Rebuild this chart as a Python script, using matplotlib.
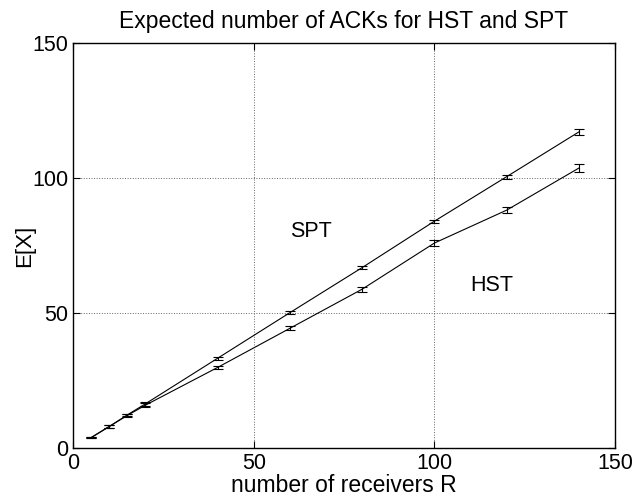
import numpy as np
import matplotlib
matplotlib.use("Agg")
import matplotlib.pyplot as plt

plt.rcParams['font.family'] = ['Liberation Sans', 'DejaVu Sans']

receivers = [5, 10, 15, 20, 40, 60, 80, 100, 120, 140]
spt_mean = [3.8, 7.9, 12.2, 16.3, 33.2, 50.1, 66.8, 84.0, 100.5, 117.1]
spt_err = [0.3, 0.4, 0.5, 0.6, 0.5, 0.5, 0.6, 0.6, 0.7, 1.0]
hst_mean = [3.8, 7.9, 12.0, 15.8, 29.8, 44.3, 58.8, 75.9, 88.1, 103.7]
hst_err = [0.3, 0.4, 0.5, 0.7, 0.7, 0.8, 1.0, 1.2, 1.2, 1.6]

fig = plt.figure(figsize=(6.37, 5.01), dpi=100)
ax = fig.add_axes([0.1146, 0.106, 0.851, 0.808])

for m, e in [(spt_mean, spt_err), (hst_mean, hst_err)]:
    ax.errorbar(receivers, m, yerr=e, color='black', lw=0.8,
                elinewidth=0.8, capsize=3.6, capthick=0.8)

ax.text(60, 80, 'SPT', fontsize=15.5, va='center', ha='left')
ax.text(110, 60, 'HST', fontsize=15.5, va='center', ha='left')

ax.set_xlim(0, 150)
ax.set_ylim(0, 150)
ax.set_xticks([0, 50, 100, 150])
ax.set_yticks([0, 50, 100, 150])
ax.grid(True, linestyle=':', color='#666666', lw=0.7)
ax.tick_params(direction='in', top=True, right=True, labelsize=15.5, length=5)
ax.tick_params(axis='x', pad=3.5)
ax.tick_params(axis='y', pad=3.5)
for s in ax.spines.values():
    s.set_linewidth(1.0)

ax.set_title('Expected number of ACKs for HST and SPT', fontsize=16.5, pad=11)
ax.set_xlabel('number of receivers R', fontsize=16.5, labelpad=0)
ax.set_ylabel('E[X]', fontsize=16, labelpad=-2)

fig.savefig('out.png', dpi=100)
